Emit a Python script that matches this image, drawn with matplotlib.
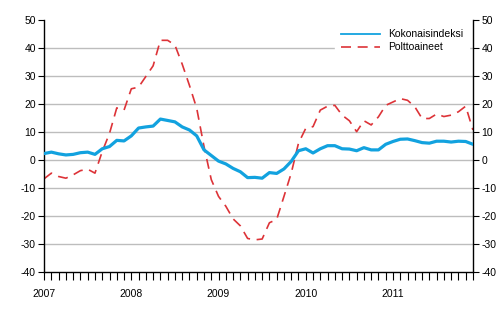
import matplotlib.pyplot as plt
import numpy as np

plt.rcParams['font.family'] = ['Liberation Sans', 'DejaVu Sans']
plt.rcParams['axes.unicode_minus'] = False

# Vuosimuutos, % (kuukausittain 2007-2011)
vuodet = ['2007', '2008', '2009', '2010', '2011']
kokonaisindeksi = [
    2.3, 2.8, 2.2, 1.8, 2.0, 2.6, 2.8, 2.0, 4.0, 4.8, 7.0, 6.8,
    8.6, 11.4, 11.8, 12.1, 14.6, 14.1, 13.6, 11.8, 10.7, 8.6, 3.6, 1.6,
    -0.4, -1.4, -3.0, -4.2, -6.3, -6.2, -6.5, -4.5, -4.8, -3.2, -0.5, 3.3,
    4.0, 2.5, 4.0, 5.1, 5.1, 4.0, 3.9, 3.3, 4.4, 3.6, 3.6, 5.6,
    6.6, 7.4, 7.5, 6.9, 6.2, 6.0, 6.7, 6.7, 6.4, 6.7, 6.6, 5.6,
]
polttoaineet = [
    -6.7, -4.7, -5.9, -6.5, -5.3, -3.8, -3.3, -4.7, 3.0, 9.5, 18.6, 17.8,
    25.4, 26.0, 29.8, 33.6, 42.7, 42.7, 41.0, 34.2, 26.6, 18.4, 4.8, -7.0,
    -13.0, -16.5, -21.0, -23.5, -28.0, -28.5, -28.2, -22.4, -21.2, -13.0, -4.7, 6.0,
    11.3, 11.9, 17.8, 19.2, 19.5, 16.0, 14.0, 10.1, 14.0, 12.5, 15.4, 19.5,
    20.7, 21.9, 21.3, 19.0, 14.8, 14.8, 16.4, 15.5, 16.0, 17.2, 19.2, 10.7,
]

x = np.arange(len(kokonaisindeksi))

fig = plt.figure(figsize=(5.01, 3.31), dpi=100)
ax = fig.add_axes([0.088, 0.178, 0.856, 0.762])

ax.plot(x, kokonaisindeksi, color='#12A2DF', linewidth=2.3, label='Kokonaisindeksi', zorder=3)
ax.plot(x, polttoaineet, color='#DD3338', linewidth=1.2, dashes=(6, 4), label='Polttoaineet', zorder=2)

ax.set_xlim(0, len(x) - 1)
ax.set_ylim(-40, 50)
ax.set_yticks(range(-40, 51, 10))
for v in range(-30, 50, 10):
    ax.axhline(v, color='#BDBDBD', linewidth=1.0, zorder=1)

ax.set_xticks(x)
ax.set_xticklabels([vuodet[i // 12] if i % 12 == 0 else '' for i in x])
ax.tick_params(axis='x', direction='out', length=6, width=0.8, pad=6, labelsize=7.5)
ax.tick_params(axis='y', direction='out', length=4, width=0.8, labelsize=7.5,
               left=True, right=True, labelleft=True, labelright=True, pad=2)

ax.spines['top'].set_visible(False)
for s in ['left', 'right', 'bottom']:
    ax.spines[s].set_linewidth(1.0)

leg = ax.legend(loc='upper right', frameon=True, fontsize=7.5, handlelength=3.8,
                borderaxespad=0.5, labelspacing=0.3)
leg.get_frame().set_edgecolor('white')
leg.get_frame().set_facecolor('white')
leg.get_frame().set_alpha(1)
leg.get_frame().set_boxstyle('square', pad=0.1)
leg.get_lines()[0].set_linewidth(1.3)

fig.savefig('out.png', dpi=100)
